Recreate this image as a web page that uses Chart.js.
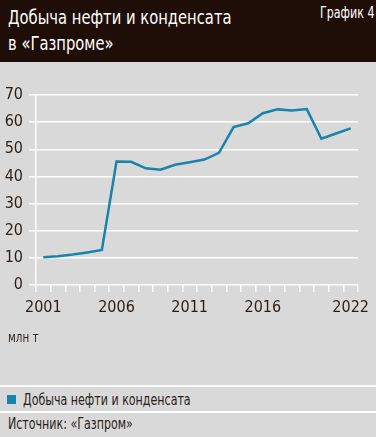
<!DOCTYPE html>
<html>
<head>
<meta charset="utf-8">
<script src="https://cdn.jsdelivr.net/npm/chart.js@4"></script>
<style>
  html, body { margin: 0; padding: 0; }
  body {
    width: 376px; height: 437px; background: #d9d9d9; position: relative; overflow: hidden;
    font-family: 'Liberation Sans Narrow', 'DejaVu Sans Condensed', 'Roboto Condensed', sans-serif;
    color: #2a1f18;
  }
  .narrow { display: inline-block; transform: scaleX(0.82); transform-origin: left center; white-space: nowrap; }
  #header { position: absolute; left: 0; top: 0; width: 376px; height: 62px; background: #1f0d07; color: #fff; }
  #title { position: absolute; left: 8px; top: 4px; font-size: 20px; line-height: 26px; }
  #num { position: absolute; left: 320px; top: 4px; font-size: 15px; }
  #wrap { position: absolute; left: 0; top: 62px; width: 376px; height: 323px; }
  #unit { position: absolute; left: 8px; top: 329px; font-size: 14px; }
  .sep { position: absolute; left: 0; width: 376px; height: 2px; background: #fff; }
  #legend { position: absolute; left: 7px; top: 391px; font-size: 15px; line-height: 18px; white-space: nowrap; }
  #legend span.box { display: inline-block; width: 9px; height: 9px; background: #1883ab; margin-right: 7px; vertical-align: 1px; }
  #source { position: absolute; left: 8px; top: 415px; font-size: 15px; }
</style>
</head>
<body>
<div id="header">
  <div id="title" class="narrow">Добыча нефти и конденсата<br>в «Газпроме»</div>
  <div id="num" class="narrow">График 4</div>
</div>
<div id="wrap"><canvas id="chart"></canvas></div>
<div id="unit" class="narrow">млн т</div>
<div class="sep" style="top:385px"></div>
<div id="legend"></div>
<div class="sep" style="top:411px"></div>
<div id="source" class="narrow">Источник: «Газпром»</div>
<script>
const years = ['2001','2002','2003','2004','2005','2006','2007','2008','2009','2010','2011',
  '2012','2013','2014','2015','2016','2017','2018','2019','2020','2021','2022'];
const shownYears = ['2001','2006','2011','2016','2022'];
const seriesName = 'Добыча нефти и конденсата';
const production = [10.2, 10.6, 11.2, 12.0, 12.9, 45.5, 45.4, 43.0, 42.5, 44.3, 45.2,
  46.2, 48.7, 58.2, 59.6, 63.3, 64.7, 64.3, 64.8, 53.9, 55.8, 57.7];
const yTicks = [0, 10, 20, 30, 40, 50, 60, 70];

const lineColor = '#1883ab';
const fontFamily = "'Liberation Sans Narrow', 'DejaVu Sans Condensed', 'Roboto Condensed', sans-serif";

document.getElementById('legend').innerHTML =
  `<span class="box"></span><span class="narrow">${seriesName}</span>`;

new Chart(document.getElementById('chart'), {
  type: 'line',
  data: {
    labels: years,
    datasets: [{
      label: seriesName,
      data: production,
      borderColor: lineColor,
      borderWidth: 2.5,
      pointRadius: 0,
      tension: 0,
      fill: false
    }]
  },
  options: {
    responsive: true,
    maintainAspectRatio: false,
    animation: false,
    layout: { padding: { top: 33, right: 18, left: 0, bottom: 0 } },
    plugins: { legend: { display: false }, tooltip: { enabled: false } },
    scales: {
      x: {
        offset: true,
        grid: {
          offset: true,
          color: ctx => ctx.index === years.length ? '#ffffff' : 'rgba(0,0,0,0)',
          tickColor: '#ffffff',
          tickLength: 7,
          lineWidth: 1.5
        },
        border: { display: false },
        ticks: {
          autoSkip: false,
          maxRotation: 0,
          padding: 6,
          color: '#2a1f18',
          font: { family: fontFamily, size: 16 },
          callback: function(v, i) {
            const y = years[i];
            return shownYears.includes(y) ? y : '';
          }
        },
        afterFit: scale => { scale.height = 100; }
      },
      y: {
        min: 0,
        max: 70,
        afterBuildTicks: axis => { axis.ticks = yTicks.map(v => ({ value: v })); },
        grid: { color: '#ffffff', lineWidth: 1.5, tickLength: 7, tickColor: '#ffffff' },
        border: { color: '#ffffff', width: 1.5 },
        ticks: {
          padding: 6,
          color: '#2a1f18',
          font: { family: fontFamily, size: 16 }
        },
        afterFit: scale => { scale.width = 36; }
      }
    }
  }
});
</script>
</body>
</html>
